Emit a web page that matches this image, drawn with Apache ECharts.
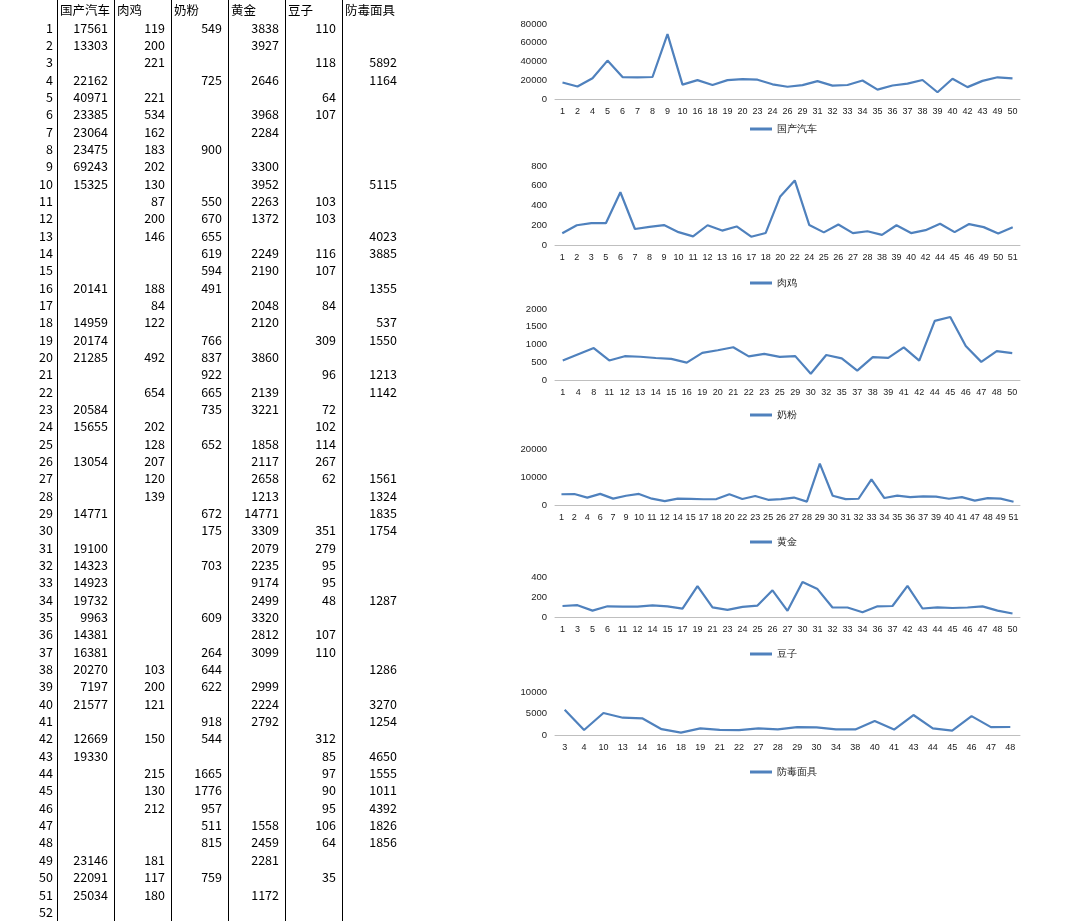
<!DOCTYPE html>
<html><head><meta charset="utf-8">
<script src="https://cdn.jsdelivr.net/npm/echarts@6/dist/echarts.min.js"></script>
<style>
body{margin:0;background:#fff;font-family:"Noto Sans CJK SC","DejaVu Sans",sans-serif;}
#chart{position:absolute;left:0;top:0;width:1080px;height:921px;}
#table{position:absolute;left:0;top:0;width:345px;height:921px;font-size:12.5px;color:#000;}
.c{position:absolute;height:17px;line-height:17px;white-space:nowrap;}
.v{position:absolute;top:0;width:1px;height:921px;background:#000;}
</style></head><body>
<div id="chart"></div>
<div id="table"></div>
<script>
const headers = ["国产汽车","肉鸡","奶粉","黄金","豆子","防毒面具"];
const car    = [17561,13303,null,22162,40971,23385,23064,23475,69243,15325,null,null,null,null,null,20141,null,14959,20174,21285,null,null,20584,15655,null,13054,null,null,14771,null,19100,14323,14923,19732,9963,14381,16381,20270,7197,21577,null,12669,19330,null,null,null,null,null,23146,22091,25034];
const chicken= [119,200,221,null,221,534,162,183,202,130,87,200,146,null,null,188,84,122,null,492,null,654,null,202,128,207,120,139,null,null,null,null,null,null,null,null,null,103,200,121,null,150,null,215,130,212,null,null,181,117,180];
const milk   = [549,null,null,725,null,null,null,900,null,null,550,670,655,619,594,491,null,null,766,837,922,665,735,null,652,null,null,null,672,175,null,703,null,null,609,null,264,644,622,null,918,544,null,1665,1776,957,511,815,null,759,null];
const gold   = [3838,3927,null,2646,null,3968,2284,null,3300,3952,2263,1372,null,2249,2190,null,2048,2120,null,3860,null,2139,3221,null,1858,2117,2658,1213,14771,3309,2079,2235,9174,2499,3320,2812,3099,null,2999,2224,2792,null,null,null,null,null,1558,2459,2281,null,1172];
const beans  = [110,null,118,null,64,107,null,null,null,null,103,103,null,116,107,null,84,null,309,null,96,null,72,102,114,267,62,null,null,351,279,95,95,48,null,107,110,null,null,null,null,312,85,97,90,95,106,64,null,35,null];
const mask   = [null,null,5892,1164,null,null,null,null,null,5115,null,null,4023,3885,null,1355,null,537,1550,null,1213,1142,null,null,null,null,1561,1324,1835,1754,null,null,null,1287,null,null,null,1286,null,3270,1254,null,4650,1555,1011,4392,1826,1856,null,null,null];
const columns = [car,chicken,milk,gold,beans,mask];
const chartRows = [50,51,50,51,50,48];
const yMax = [80000,800,2000,20000,400,10000];
const yStep = [20000,200,500,10000,200,5000];
const plotTop = [24,166,309,449,577,692];
const plotBot = [99,245,380,505,617,735];

const T=document.getElementById('table');
const colX=[57,114,171,228,285,342];
colX.forEach(x=>{const d=document.createElement('div');d.className='v';d.style.left=x+'px';T.appendChild(d);});
function cell(txt,left,top,w,align){const d=document.createElement('div');d.className='c';d.textContent=txt;d.style.left=left+'px';d.style.top=top+'px';d.style.width=w+'px';d.style.textAlign=align;T.appendChild(d);}
const rh=17.34;
headers.forEach((h,i)=>cell(h,colX[i]+3,1,60,'left'));
for(let r=0;r<52;r++){
  const y=18.5+r*rh;
  cell(String(r+1),0,y,53,'right');
  columns.forEach((col,i)=>{ if(r<col.length && col[r]!=null) cell(String(col[r]),colX[i],y,colX[i]===342?55:51,'right'); });
}

const grids=[],xAxis=[],yAxis=[],series=[],legend=[];
columns.forEach((col,i)=>{
  const cats=[],vals=[];
  for(let r=0;r<chartRows[i];r++){ if(col[r]!=null){cats.push(String(r+1));vals.push(col[r]);} }
  grids.push({left:555,width:465,top:plotTop[i],height:plotBot[i]-plotTop[i]});
  xAxis.push({type:'category',gridIndex:i,data:cats,boundaryGap:true,
    axisLine:{lineStyle:{color:'#bfbfbf'}},axisTick:{show:false},
    axisLabel:{interval:0,fontSize:9,color:'#222',margin:8}});
  yAxis.push({type:'value',gridIndex:i,min:0,max:yMax[i],interval:yStep[i],
    splitLine:{show:false},axisLine:{show:false},axisTick:{show:false},
    axisLabel:{fontSize:9.5,color:'#222',margin:8,formatter:v=>String(v)}});
  series.push({type:'line',name:headers[i],xAxisIndex:i,yAxisIndex:i,data:vals,
    symbol:'none',lineStyle:{color:'#4F81BD',width:2.2},itemStyle:{color:'#4F81BD'}});
  legend.push({data:[headers[i]],left:745,top:plotBot[i]+[20,28,25,27,27,27][i],
    itemWidth:22,itemHeight:3,icon:'rect',textStyle:{fontSize:10,color:'#222'},itemGap:4});
});
const ch=echarts.init(document.getElementById('chart'));
ch.setOption({animation:false,grid:grids,xAxis,yAxis,series,legend});
</script>
</body></html>
